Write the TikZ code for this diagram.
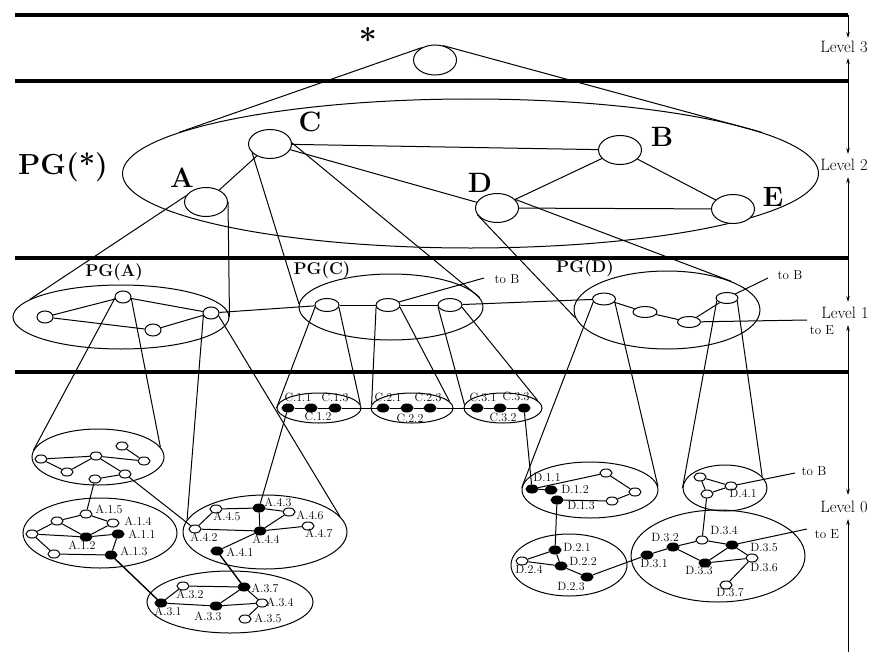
\documentclass[tikz,border=0pt]{standalone}
\usetikzlibrary{shapes.geometric,arrows.meta}
\begin{document}
\begin{tikzpicture}[x=1pt,y=-1pt,
  ln/.style={line width=1pt},
  lnb/.style={line width=1.4pt},
  sepline/.style={line width=3.2pt},
  nd/.style={ellipse,draw,fill=white,inner sep=0pt,line width=1pt},
  topn/.style={nd,minimum width=43pt,minimum height=29pt},
  midn/.style={nd,minimum width=16pt,minimum height=12pt},
  cyln/.style={nd,minimum width=24pt,minimum height=13pt},
  wn/.style={nd,minimum width=12pt,minimum height=8pt},
  bn/.style={wn,fill=black},
  clus/.style={ellipse,draw,inner sep=0pt,line width=1pt},
  lbl/.style={inner sep=0pt,font=\fontsize{12}{12}\selectfont},
  big/.style={inner sep=0pt,font=\fontsize{28}{28}\selectfont\bfseries},
  pg/.style={inner sep=0pt,font=\fontsize{17}{17}\selectfont\bfseries},
  lev/.style={inner sep=0pt,font=\fontsize{16.5}{16.5}\selectfont},
  tol/.style={inner sep=0pt,font=\fontsize{13}{13}\selectfont},
  ax/.style={line width=0.7pt},
  tipend/.style={-{Stealth[length=6pt,width=3.5pt]}},
  tipboth/.style={{Stealth[length=6pt,width=3.5pt]}-{Stealth[length=6pt,width=3.5pt]}}
]
\useasboundingbox (0,0) rectangle (874,658);

% ---------- level separators and axis ----------
\coordinate (h0l) at (15,15);  \coordinate (h0r) at (848,15);
\coordinate (h1l) at (15,81);  \coordinate (h1r) at (848,81);
\coordinate (h2l) at (15,258); \coordinate (h2r) at (848,258);
\coordinate (h3l) at (15,372); \coordinate (h3r) at (848,372);
\draw[sepline] (h0l) -- (h0r);
\draw[sepline] (h1l) -- (h1r);
\draw[sepline] (h2l) -- (h2r);
\draw[sepline] (h3l) -- (h3r);

\node[lev] (L3) at (844,47) {Level 3};
\node[lev] (L2) at (844,165) {Level 2};
\node[lev] (L1) at (845,313) {Level 1};
\node[lev] (L0) at (844,507) {Level 0};
\coordinate (axT) at (848,15);
\coordinate (axB) at (848,652);
\coordinate (t3u) at (848,38);  \coordinate (t3d) at (848,58);
\coordinate (t2u) at (848,154); \coordinate (t2d) at (848,177);
\coordinate (t1u) at (848,302); \coordinate (t1d) at (848,325);
\coordinate (t0u) at (848,495); \coordinate (t0d) at (848,519);
\draw[ax,tipend] (axT) -- (t3u);
\draw[ax,tipboth] (t3d) -- (t2u);
\draw[ax,tipboth] (t2d) -- (t1u);
\draw[ax,tipboth] (t1d) -- (t0u);
\draw[ax,tipend] (axB) -- (t0d);

% ---------- level 3 and level 2 ----------
\node[inner sep=0pt,font=\fontsize{32}{32}\selectfont\bfseries] (star) at (368,40) {*};
\node[topn,minimum height=30pt] (S) at (435,60) {};
\node[clus,minimum width=696pt,minimum height=149pt] (PGS) at (470.5,173.5) {};
\node[inner sep=0pt,font=\fontsize{29}{29}\selectfont\bfseries] (PGSl) at (63,167) {PG(*)};

\node[topn] (A) at (206,202) {};
\node[topn] (C) at (270,144) {};
\node[topn] (B) at (620,150) {};
\node[topn] (D) at (497,208) {};
\node[topn] (E) at (733,209) {};
\node[big] (Al) at (182,178) {A};
\node[big] (Cl) at (310,122) {C};
\node[big] (Bl) at (662,137) {B};
\node[big] (Dl) at (480,183) {D};
\node[big] (El) at (773,197) {E};

% ---------- level 1 ----------
\node[clus,minimum width=216pt,minimum height=64pt] (PGA) at (121,317) {};
\node[clus,minimum width=184pt,minimum height=66pt] (PGC) at (391,307) {};
\node[clus,minimum width=186pt,minimum height=78pt] (PGD) at (667,310) {};
\node[pg] (PGAl) at (114,272) {PG(A)};
\node[pg] (PGCl) at (322,270) {PG(C)};
\node[pg] (PGDl) at (585,268) {PG(D)};

\node[midn] (a1) at (45,317) {};
\node[midn] (a2) at (123,297) {};
\node[midn] (a3) at (153,330) {};
\node[midn] (a4) at (211,313) {};

\node[cyln] (c1) at (327,305) {};
\node[cyln] (c2) at (388,305) {};
\node[cyln] (c3) at (450,305) {};

\node[cyln,minimum width=23pt,minimum height=12pt] (d1) at (604,299) {};
\node[cyln,minimum width=24pt,minimum height=11pt] (d2) at (645,312) {};
\node[cyln,minimum width=23pt,minimum height=11pt] (d3) at (689,322) {};
\node[cyln,minimum width=22pt,minimum height=11pt] (d4) at (727,298) {};

\coordinate (toB1) at (484,278);
\coordinate (toB2) at (768,278);
\coordinate (toE1) at (807,320);
\node[tol] (toB1l) at (507,279) {to B};
\node[tol] (toB2l) at (790,275) {to B};
\node[tol] (toE1l) at (822,330) {to E};

% ---------- level 0 clusters ----------
\node[clus,minimum width=132pt,minimum height=56pt] (L0A) at (98,457) {};
\node[clus,minimum width=154pt,minimum height=70pt] (A1c) at (100,533) {};
\node[clus,minimum width=164pt,minimum height=74pt] (A4c) at (265,532) {};
\node[clus,minimum width=166pt,minimum height=62pt] (A3c) at (230,602) {};
\node[clus,minimum width=84pt,minimum height=30pt] (C1c) at (319,408) {};
\node[clus,minimum width=82pt,minimum height=30pt] (C2c) at (412,408) {};
\node[clus,minimum width=78pt,minimum height=30pt] (C3c) at (503,408) {};
\node[clus,minimum width=136pt,minimum height=56pt] (D1c) at (590,490) {};
\node[clus,minimum width=84pt,minimum height=46pt] (D4c) at (725,488) {};
\node[clus,minimum width=116pt,minimum height=62pt] (D2c) at (569,565) {};
\node[clus,minimum width=174pt,minimum height=92pt] (D3c) at (718,556) {};

% unlabeled cluster under a2
\node[wn] (n1) at (41,459) {};
\node[wn] (n2) at (96,456) {};
\node[wn] (n3) at (67,472) {};
\node[wn] (n4) at (122,446) {};
\node[wn] (n5) at (144,461) {};
\node[wn] (n6) at (95,479) {};
\node[wn] (n7) at (125,474) {};

% A.1
\node[wn] (A15) at (86,514) {};
\node[wn] (A14) at (113,523) {};
\node[bn] (A11) at (118,534) {};
\node[bn] (A12) at (86,537) {};
\node[bn] (A13) at (111,555) {};
\node[wn] (w1) at (57,521) {};
\node[wn] (w2) at (32,534) {};
\node[wn] (w3) at (54,554) {};
\node[lbl] (lA15) at (109,509) {A.1.5};
\node[lbl] (lA14) at (138,521) {A.1.4};
\node[lbl] (lA11) at (142,534) {A.1.1};
\node[lbl] (lA12) at (82,545) {A.1.2};
\node[lbl] (lA13) at (134,551) {A.1.3};

% A.4
\node[bn] (A43) at (259,508) {};
\node[wn] (A45) at (216,509) {};
\node[wn] (A46) at (289,512) {};
\node[wn] (A42) at (195,529) {};
\node[bn] (A44) at (260,531) {};
\node[wn] (A47) at (308,526) {};
\node[bn] (A41) at (217,551) {};
\node[lbl] (lA43) at (278,502) {A.4.3};
\node[lbl] (lA45) at (227,516) {A.4.5};
\node[lbl] (lA46) at (310,515) {A.4.6};
\node[lbl] (lA42) at (204,537) {A.4.2};
\node[lbl] (lA44) at (266,539) {A.4.4};
\node[lbl] (lA47) at (319,533) {A.4.7};
\node[lbl] (lA41) at (240,552) {A.4.1};

% A.3
\node[bn] (A31) at (161,603) {};
\node[wn] (A32) at (183,586) {};
\node[bn] (A37) at (244,587) {};
\node[bn] (A33) at (216,606) {};
\node[wn] (A34) at (262,603) {};
\node[wn] (A35) at (245,619) {};
\node[lbl] (lA31) at (168,611) {A.3.1};
\node[lbl] (lA32) at (190,594) {A.3.2};
\node[lbl] (lA37) at (265,588) {A.3.7};
\node[lbl] (lA33) at (208,616) {A.3.3};
\node[lbl] (lA34) at (280,602) {A.3.4};
\node[lbl] (lA35) at (268,618) {A.3.5};

% C clusters
\node[bn] (C11) at (288,408) {};
\node[bn] (C12) at (311,408) {};
\node[bn] (C13) at (335,408) {};
\node[bn] (C21) at (383,408) {};
\node[bn] (C22) at (407,408) {};
\node[bn] (C23) at (430,408) {};
\node[bn] (C31) at (477,408) {};
\node[bn] (C32) at (500,408) {};
\node[bn] (C33) at (524,408) {};
\node[lbl] (lC11) at (298,397) {C.1.1};
\node[lbl] (lC13) at (335,397) {C.1.3};
\node[lbl] (lC12) at (318,416) {C.1.2};
\node[lbl] (lC21) at (388,397) {C.2.1};
\node[lbl] (lC23) at (428,397) {C.2.3};
\node[lbl] (lC22) at (410,418) {C.2.2};
\node[lbl] (lC31) at (483,397) {C.3.1};
\node[lbl] (lC33) at (516,396) {C.3.3};
\node[lbl] (lC32) at (503,417) {C.3.2};

% D.1
\node[bn] (D11) at (532,489) {};
\node[bn] (D12) at (551,490) {};
\node[bn] (D13) at (557,500) {};
\node[wn] (u1) at (606,473) {};
\node[wn] (u2) at (635,492) {};
\node[wn] (u3) at (612,501) {};
\node[lbl] (lD11) at (547,477) {D.1.1};
\node[lbl] (lD12) at (575,489) {D.1.2};
\node[lbl] (lD13) at (581,506) {D.1.3};

% D.2
\node[bn] (D21) at (555,550) {};
\node[wn] (D24) at (522,561) {};
\node[bn] (D22) at (561,566) {};
\node[bn] (D23) at (587,577) {};
\node[lbl] (lD21) at (577,547) {D.2.1};
\node[lbl] (lD24) at (529,569) {D.2.4};
\node[lbl] (lD22) at (583,561) {D.2.2};
\node[lbl] (lD23) at (571,587) {D.2.3};

% D.4
\node[wn] (v1) at (700,477) {};
\node[wn] (D41) at (731,486) {};
\node[wn] (v3) at (707,494) {};
\node[lbl] (lD41) at (743,493) {D.4.1};
\coordinate (toB3) at (795,473);
\node[tol] (toB3l) at (814,471) {to B};

% D.3
\node[bn] (D31) at (647,555) {};
\node[bn] (D32) at (673,547) {};
\node[wn] (D34) at (702,540) {};
\node[bn] (D35) at (732,545) {};
\node[bn] (D33) at (705,563) {};
\node[wn] (D36) at (752,558) {};
\node[wn] (D37) at (726,585) {};
\node[lbl] (lD31) at (654,564) {D.3.1};
\node[lbl] (lD32) at (665,538) {D.3.2};
\node[lbl] (lD34) at (724,531) {D.3.4};
\node[lbl] (lD35) at (764,548) {D.3.5};
\node[lbl] (lD33) at (699,571) {D.3.3};
\node[lbl] (lD36) at (764,568) {D.3.6};
\node[lbl] (lD37) at (730,593) {D.3.7};
\coordinate (toE2) at (807,529);
\node[tol] (toE2l) at (827,534) {to E};

% ---------- cones ----------
\draw[ln] (S.137) -- (PGS.172.5);
\draw[ln] (S.60) -- (PGS.8.3);
\draw[ln] (A.163) -- (PGA.169.7);
\draw[ln] (A.east) -- (PGA.east);
\draw[ln] (C.206) -- (PGC.178);
\draw[ln] (C.3) -- (PGC.6.6);
\draw[ln] (D.200) -- (PGD.185);
\draw[ln] (D.26.6) -- (PGD.24.8);
\draw[ln] (a2.190) -- (L0A.174);
\draw[ln] (a2.350) -- (L0A.9);
\draw[ln] (a4.200) -- (A4c.171.7);
\draw[ln] (a4.340) -- (A4c.12.8);
\draw[ln] (c1.190) -- (C1c.west);
\draw[ln] (c1.350) -- (C1c.5);
\draw[ln] (c2.190) -- (C2c.175);
\draw[ln] (c2.350) -- (C2c.10);
\draw[ln] (c3.190) -- (C3c.175);
\draw[ln] (c3.350) -- (C3c.12);
\draw[ln] (d1.195) -- (D1c.178);
\draw[ln] (d1.345) -- (D1c.3);
\draw[ln] (d4.195) -- (D4c.west);
\draw[ln] (d4.345) -- (D4c.17);

% ---------- level 2 edges ----------
\draw[ln] (C) -- (A);
\draw[ln] (C) -- (B);
\draw[ln] (C) -- (D);
\draw[ln] (D) -- (B);
\draw[ln] (D) -- (E);
\draw[ln] (B) -- (E);

% ---------- level 1 edges ----------
\draw[ln] (a1) -- (a2);
\draw[ln] (a1) -- (a3);
\draw[ln] (a2) -- (a4);
\draw[ln] (a3) -- (a4);
\draw[ln] (a4) -- (c1);
\draw[ln] (c1) -- (c2);
\draw[ln] (c2) -- (c3);
\draw[ln] (c2) -- (toB1);
\draw[ln] (c3) -- (d1);
\draw[ln] (d1) -- (d2);
\draw[ln] (d2) -- (d3);
\draw[ln] (d3) -- (d4);
\draw[ln] (d4) -- (toB2);
\draw[ln] (d3) -- (toE1);

% ---------- level 0 edges ----------
\draw[ln] (n1) -- (n2);
\draw[ln] (n1) -- (n3);
\draw[ln] (n3) -- (n2);
\draw[ln] (n2) -- (n5);
\draw[ln] (n4) -- (n5);
\draw[ln] (n2) -- (n7);
\draw[ln] (n6) -- (n7);
\draw[ln] (n6) -- (A15);
\draw[ln] (n7) -- (A42);

\draw[ln] (A15) -- (w1);
\draw[ln] (A15) -- (A14);
\draw[ln] (w1) -- (w2);
\draw[ln] (w1) -- (A12);
\draw[ln] (w2) -- (A12);
\draw[ln] (A12) -- (A14);
\draw[ln] (A12) -- (A11);
\draw[ln] (A11) -- (A13);
\draw[ln] (w2) -- (w3);
\draw[ln] (w3) -- (A13);
\draw[lnb] (A13) -- (A31);

\draw[ln] (A45) -- (A43);
\draw[ln] (A45) -- (A42);
\draw[ln] (A42) -- (A44);
\draw[ln] (A43) -- (A46);
\draw[ln] (A43) -- (A44);
\draw[ln] (A44) -- (A46);
\draw[ln] (A44) -- (A47);
\draw[ln] (A44) -- (A41);
\draw[lnb] (A41) -- (A37);

\draw[ln] (A31) -- (A32);
\draw[ln] (A31) -- (A33);
\draw[ln] (A32) -- (A37);
\draw[ln] (A33) -- (A37);
\draw[ln] (A33) -- (A34);
\draw[ln] (A37) -- (A34);
\draw[ln] (A34) -- (A35);

\draw[ln] (C11) -- (C12);
\draw[ln] (C12) -- (C13);
\draw[ln] (C13) -- (C21);
\draw[ln] (C21) -- (C22);
\draw[ln] (C22) -- (C23);
\draw[ln] (C23) -- (C31);
\draw[ln] (C31) -- (C32);
\draw[ln] (C32) -- (C33);
\draw[ln] (C11) -- (A43);
\draw[ln] (C33) -- (D11);

\draw[ln] (D11) -- (D12);
\draw[ln] (D11) -- (u1);
\draw[ln] (u1) -- (u2);
\draw[ln] (u2) -- (u3);
\draw[ln] (u3) -- (D13);
\draw[ln] (D13) -- (D21);

\draw[ln] (D21) -- (D24);
\draw[ln] (D21) -- (D22);
\draw[ln] (D24) -- (D22);
\draw[ln] (D22) -- (D23);
\draw[ln] (D23) -- (D31);

\draw[ln] (v1) -- (D41);
\draw[ln] (v1) -- (v3);
\draw[ln] (D41) -- (v3);
\draw[ln] (D41) -- (toB3);
\draw[ln] (v3) -- (D34);

\draw[ln] (D31) -- (D32);
\draw[ln] (D32) -- (D34);
\draw[ln] (D32) -- (D33);
\draw[ln] (D34) -- (D35);
\draw[ln] (D33) -- (D35);
\draw[ln] (D33) -- (D36);
\draw[ln] (D35) -- (D36);
\draw[ln] (D36) -- (D37);
\draw[ln] (D35) -- (toE2);
\end{tikzpicture}
\end{document}
